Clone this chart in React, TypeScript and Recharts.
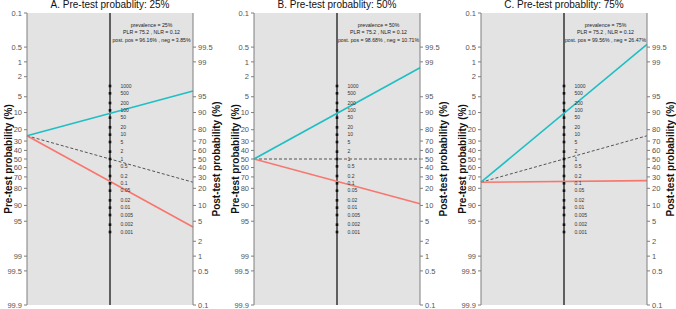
import React from 'react';
import { ComposedChart, Line, Scatter, XAxis, YAxis, ReferenceLine, ReferenceArea, LabelList } from 'recharts';

// Fagan nomogram, three pre-test probabilities
const preTicks = [0.1, 0.5, 1, 2, 5, 10, 20, 30, 40, 50, 60, 70, 80, 90, 95, 99, 99.5, 99.9];
const postTicks = [99.5, 99, 95, 90, 80, 70, 60, 50, 40, 30, 20, 10, 5, 2, 1, 0.5, 0.1];
const lrTicks = [1000, 500, 200, 100, 50, 20, 10, 5, 2, 1, 0.5, 0.2, 0.1, 0.05, 0.02, 0.01, 0.005, 0.002, 0.001];

const panelLetters = ['A', 'B', 'C'];
const prevalence = [25, 50, 75];
const plrValues = [75.2, 75.2, 75.2];
const nlrValues = [0.12, 0.12, 0.12];
const postPos = [96.16, 98.68, 99.56];
const postNeg = [3.85, 10.71, 26.47];

const FONT = '"Liberation Sans", Arial, Helvetica, sans-serif';
const W = 227;
const H = 309;

const logit = (p: number) => Math.log(p / (100 - p));
const LIM = logit(99.9);

const fmt = (v: number) => String(+v.toFixed(1));

const Dot = (props: any) => {
  const { cx, cy } = props;
  if (cx == null || cy == null) return null;
  return <rect x={cx - 1.3} y={cy - 1.3} width={2.6} height={2.6} fill="#111" />;
};

const Panel = ({ idx }: { idx: number }) => {
  const pre = prevalence[idx];
  const start = -logit(pre);
  const posLine = [{ x: 0, y: start }, { x: 2, y: logit(postPos[idx]) }];
  const negLine = [{ x: 0, y: start }, { x: 2, y: logit(postNeg[idx]) }];
  const nullLine = [{ x: 0, y: start }, { x: 2, y: logit(pre) }];
  const lrData = lrTicks.map(lr => ({ x: 1, y: Math.log(lr) / 2, label: String(lr) }));

  return (
    <div style={{ position: 'absolute', left: idx * W, top: 0, width: W, height: H }}>
      <ComposedChart width={W} height={H} margin={{ top: 13, right: 0, bottom: 4, left: 0 }}>
        <XAxis type="number" dataKey="x" domain={[0, 2]} hide />
        <YAxis
          yAxisId="left"
          type="number"
          domain={[-LIM, LIM]}
          allowDataOverflow
          ticks={preTicks.map(p => -logit(p))}
          tickFormatter={(v: number) => fmt(100 / (1 + Math.exp(v)))}
          interval={0}
          width={27}
          stroke="#7f7f7f"
          tickSize={3}
          tick={{ fontSize: 7.5, fill: '#555', fontFamily: FONT }}
          label={{ value: 'Pre-test probability (%)', angle: -90, position: 'insideLeft', offset: 8, style: { textAnchor: 'middle', fontSize: 10, fontWeight: 'bold', fill: '#111', fontFamily: FONT } }}
        />
        <YAxis
          yAxisId="right"
          orientation="right"
          type="number"
          domain={[-LIM, LIM]}
          allowDataOverflow
          ticks={postTicks.map(p => logit(p))}
          tickFormatter={(v: number) => fmt(100 / (1 + Math.exp(-v)))}
          interval={0}
          width={34}
          stroke="#7f7f7f"
          tickSize={3}
          tick={{ fontSize: 7.5, fill: '#555', fontFamily: FONT }}
          label={{ value: 'Post-test probability (%)', angle: -90, position: 'insideRight', offset: 11, style: { textAnchor: 'middle', fontSize: 10, fontWeight: 'bold', fill: '#111', fontFamily: FONT } }}
        />
        <ReferenceArea yAxisId="left" x1={0} x2={2} y1={-LIM} y2={LIM} fill="#e3e3e3" fillOpacity={1} stroke="none" />
        <ReferenceLine yAxisId="left" x={1} stroke="#333" strokeWidth={1.5} />
        <Line yAxisId="right" data={nullLine} dataKey="y" stroke="#444" strokeWidth={0.9} strokeDasharray="3 2" dot={false} isAnimationActive={false} />
        <Line yAxisId="right" data={negLine} dataKey="y" stroke="#f8766d" strokeWidth={1.6} dot={false} isAnimationActive={false} />
        <Line yAxisId="right" data={posLine} dataKey="y" stroke="#1fbfc4" strokeWidth={1.6} dot={false} isAnimationActive={false} />
        <Scatter yAxisId="left" data={lrData} dataKey="y" shape={<Dot />} isAnimationActive={false}>
          <LabelList dataKey="label" position="right" offset={6} style={{ fontSize: 5, fill: '#333', fontFamily: FONT }} />
        </Scatter>
      </ComposedChart>
      <div style={{ position: 'absolute', left: 27, top: -1, width: 166, textAlign: 'center', fontSize: 10, fontFamily: FONT, color: '#111', whiteSpace: 'nowrap' }}>
        {panelLetters[idx]}. Pre-test probablity: {pre}%
      </div>
      <div style={{ position: 'absolute', left: 110, top: 21.5, width: 83, textAlign: 'center', fontSize: 5.2, lineHeight: '7.5px', fontFamily: FONT, color: '#222', whiteSpace: 'nowrap' }}>
        <div>prevalence = {pre}%</div>
        <div>PLR = {plrValues[idx]} , NLR = {nlrValues[idx]}</div>
        <div>post. pos = {postPos[idx]}% , neg = {postNeg[idx]}%</div>
      </div>
    </div>
  );
};

export default function App() {
  return (
    <div style={{ position: 'absolute', left: 0, top: 0, width: 676, height: 309, background: '#fff', overflow: 'hidden' }}>
      {panelLetters.map((_, i) => <Panel key={i} idx={i} />)}
    </div>
  );
}
